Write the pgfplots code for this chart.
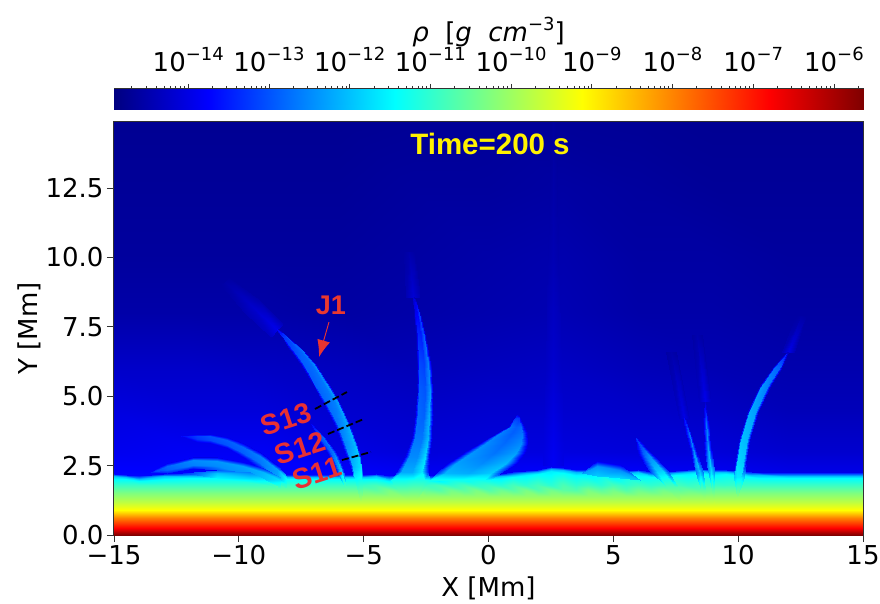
\documentclass[border=0pt]{standalone}
\usepackage{fontspec}
\setmainfont{DejaVu Sans}
\newfontfamily\lib{Liberation Sans}
\usepackage{pgfplots}
\pgfplotsset{compat=1.18}
\usetikzlibrary{arrows.meta}
\pgfplotsset{
  fld/.style={surf,shader=interp,point meta=explicit,forget plot},
  table/tb/.style={x index=0,y index=1,meta index=2,header=false,row sep=\\},
}
\newcommand\tenp[1]{10\raisebox{0.42em}{\fontsize{18}{18}\selectfont −#1}}
\definecolor{redtxt}{RGB}{232,48,52}
\definecolor{axc}{RGB}{50,50,50}
\begin{document}
\begin{tikzpicture}
\path[use as bounding box] (0,0) rectangle (880pt,603pt);
% ---------- colour bar
\begin{axis}[
  at={(114pt,493pt)},scale only axis,width=749pt,height=21pt,
  xmin=-14.92,xmax=-5.64,ymin=0,ymax=1,
  colormap/jet,point meta min=-14.92,point meta max=-5.64,
  axis line style={axc,line width=1pt},
  ytick=\empty,xtick pos=upper,xticklabel pos=upper,tick align=outside,
  xtick={-14,-13,-12,-11,-10,-9,-8,-7,-6},
  xticklabels={\tenp{14},\tenp{13},\tenp{12},\tenp{11},\tenp{10},\tenp{9},\tenp{8},\tenp{7},\tenp{6}},
  minor xtick={-14.699,-14.523,-14.398,-14.301,-14.222,-14.155,-14.097,-14.046,
   -13.699,-13.523,-13.398,-13.301,-13.222,-13.155,-13.097,-13.046,
   -12.699,-12.523,-12.398,-12.301,-12.222,-12.155,-12.097,-12.046,
   -11.699,-11.523,-11.398,-11.301,-11.222,-11.155,-11.097,-11.046,
   -10.699,-10.523,-10.398,-10.301,-10.222,-10.155,-10.097,-10.046,
   -9.699,-9.523,-9.398,-9.301,-9.222,-9.155,-9.097,-9.046,
   -8.699,-8.523,-8.398,-8.301,-8.222,-8.155,-8.097,-8.046,
   -7.699,-7.523,-7.398,-7.301,-7.222,-7.155,-7.097,-7.046,
   -6.699,-6.523,-6.398,-6.301,-6.222,-6.155,-6.097,-6.046,-5.699},
  major tick length=5pt,minor tick length=3pt,
  tick style={axc,line width=0.9pt},minor tick style={axc,line width=0.7pt},
  xticklabel style={font=\fontsize{26}{26}\selectfont,yshift=10pt,inner sep=2pt},
  xlabel={{\itshape ρ}\ \ [{\itshape g}\ \ {\itshape cm}\raisebox{0.42em}{\fontsize{18}{18}\selectfont −3}]},
  xlabel style={font=\fontsize{26}{26}\selectfont,yshift=-5pt},
]
\addplot[fld,mesh/cols=6] table[tb] {
-14.92 0 -14.92\\ -13.76 0 -13.76\\ -11.44 0 -11.44\\ -9.12 0 -9.12\\ -6.80 0 -6.80\\ -5.64 0 -5.64\\
-14.92 1 -14.92\\ -13.76 1 -13.76\\ -11.44 1 -11.44\\ -9.12 1 -9.12\\ -6.80 1 -6.80\\ -5.64 1 -5.64\\
};
\end{axis}
% ---------- main field
\begin{axis}[
  at={(114pt,68pt)},scale only axis,width=749pt,height=413pt,
  xmin=-15,xmax=15,ymin=0,ymax=14.88,
  colormap/jet,point meta min=-14.92,point meta max=-5.64,
  axis line style={axc,line width=1.1pt},
  tick align=outside,xtick pos=lower,ytick pos=left,
  major tick length=7pt,tick style={axc,line width=1pt},
  xtick={-15,-10,-5,0,5,10,15},xticklabels={−15,−10,−5,0,5,10,15},
  ytick={0,2.5,5,7.5,10,12.5},yticklabels={0.0,2.5,5.0,7.5,10.0,12.5},
  tick label style={font=\fontsize{26}{26}\selectfont},
  xlabel={X [Mm]},ylabel={Y [Mm]},
  label style={font=\fontsize{26}{26}\selectfont},
  xlabel style={yshift=-4.5pt},ylabel style={yshift=-2pt},
]
% atmosphere background
\addplot[fld,mesh/cols=11] table[tb] {
-15 2.0 -13.7\\ -12 2.0 -13.7\\ -9 2.0 -13.7\\ -6 2.0 -13.7\\ -3 2.0 -13.8\\ 0 2.0 -13.8\\ 3 2.0 -13.7\\ 6 2.0 -13.7\\ 9 2.0 -13.8\\ 12 2.0 -13.9\\ 15 2.0 -13.9\\
-15 3 -13.9\\ -12 3 -13.85\\ -9 3 -13.85\\ -6 3 -14.0\\ -3 3 -14.1\\ 0 3 -14.05\\ 3 3 -14.05\\ 6 3 -14.1\\ 9 3 -14.1\\ 12 3 -14.2\\ 15 3 -14.2\\
-15 4.5 -14.05\\ -12 4.5 -14.1\\ -9 4.5 -14.1\\ -6 4.5 -14.2\\ -3 4.5 -14.25\\ 0 4.5 -14.2\\ 3 4.5 -14.2\\ 6 4.5 -14.25\\ 9 4.5 -14.3\\ 12 4.5 -14.4\\ 15 4.5 -14.4\\
-15 6 -14.25\\ -12 6 -14.25\\ -9 6 -14.3\\ -6 6 -14.35\\ -3 6 -14.4\\ 0 6 -14.35\\ 3 6 -14.3\\ 6 6 -14.4\\ 9 6 -14.45\\ 12 6 -14.5\\ 15 6 -14.5\\
-15 8 -14.55\\ -12 8 -14.55\\ -9 8 -14.55\\ -6 8 -14.6\\ -3 8 -14.55\\ 0 8 -14.5\\ 3 8 -14.45\\ 6 8 -14.55\\ 9 8 -14.55\\ 12 8 -14.6\\ 15 8 -14.6\\
-15 10 -14.65\\ -12 10 -14.65\\ -9 10 -14.65\\ -6 10 -14.65\\ -3 10 -14.6\\ 0 10 -14.55\\ 3 10 -14.5\\ 6 10 -14.6\\ 9 10 -14.6\\ 12 10 -14.65\\ 15 10 -14.65\\
-15 12.5 -14.7\\ -12 12.5 -14.7\\ -9 12.5 -14.7\\ -6 12.5 -14.7\\ -3 12.5 -14.65\\ 0 12.5 -14.65\\ 3 12.5 -14.6\\ 6 12.5 -14.65\\ 9 12.5 -14.7\\ 12 12.5 -14.7\\ 15 12.5 -14.7\\
-15 14.88 -14.75\\ -12 14.88 -14.75\\ -9 14.88 -14.75\\ -6 14.88 -14.75\\ -3 14.88 -14.72\\ 0 14.88 -14.7\\ 3 14.88 -14.7\\ 6 14.88 -14.72\\ 9 14.88 -14.75\\ 12 14.88 -14.75\\ 15 14.88 -14.75\\
};
% faint streaks
\addplot[fld,mesh/cols=3] table[tb] {
2.2 2.5 -14.0\\ 2.6 2.5 -13.85\\ 3.0 2.5 -14.0\\
2.3 6 -14.3\\ 2.6 6 -14.2\\ 2.9 6 -14.3\\
2.4 10 -14.52\\ 2.6 10 -14.45\\ 2.8 10 -14.52\\
2.5 14.88 -14.7\\ 2.6 14.88 -14.65\\ 2.7 14.88 -14.7\\
};
\addplot[fld,mesh/cols=3] table[tb] {
-10.7 9.0 -14.6\\ -10.55 9.12 -14.55\\ -10.4 9.25 -14.6\\
-9.75 8.0 -14.45\\ -9.48 8.25 -14.25\\ -9.22 8.5 -14.5\\
-8.7 7.15 -14.3\\ -8.47 7.38 -13.95\\ -8.25 7.6 -14.4\\
};
\addplot[fld,mesh/cols=3] table[tb] {
-3.4 10.2 -14.6\\ -3.2 10.2 -14.52\\ -3.0 10.2 -14.6\\
-3.3 8.57 -14.45\\ -3.02 8.57 -14.15\\ -2.75 8.57 -14.45\\
};
\addplot[fld,mesh/cols=3] table[tb] {
12.3 7.9 -14.6\\ 12.5 7.9 -14.55\\ 12.7 7.9 -14.6\\
11.75 6.59 -14.4\\ 11.99 6.59 -14.0\\ 12.25 6.59 -14.4\\
};
\addplot[fld,mesh/cols=3] table[tb] {
8.15 7.2 -14.6\\ 8.35 7.2 -14.5\\ 8.55 7.2 -14.6\\
8.45 4.80 -14.35\\ 8.67 4.80 -13.95\\ 8.90 4.80 -14.35\\
};
\addplot[fld,mesh/cols=3] table[tb] {
7.1 6.6 -14.6\\ 7.3 6.6 -14.52\\ 7.5 6.6 -14.6\\
7.65 4.21 -14.3\\ 7.85 4.21 -14.0\\ 8.05 4.21 -14.3\\
};
% surface layer: stratified part
\addplot[fld,mesh/cols=2] table[tb] {
-15 0 -5.64\\ 15 0 -5.64\\
-15 0.25 -6.8\\ 15 0.25 -6.8\\
-15 0.6 -7.96\\ 15 0.6 -7.96\\
-15 0.9 -9.12\\ 15 0.9 -9.12\\
-15 1.2 -9.72\\ 15 1.2 -9.72\\
-15 1.5 -10.28\\ 15 1.5 -10.28\\
-15 1.8 -10.9\\ 15 1.8 -10.9\\
};
% surface layer: mottling under the rough top
\addplot[fld,mesh/cols=30] table[tb] {
-5 1.4 -10.09\\ -4.5 1.4 -10.09\\ -4 1.4 -10.09\\ -3.5 1.4 -10.09\\ -3 1.4 -10.09\\ -2.5 1.4 -10.09\\ -2 1.4 -10.09\\ -1.5 1.4 -10.09\\ -1 1.4 -10.09\\ -0.5 1.4 -10.09\\ 0 1.4 -10.09\\ 0.5 1.4 -10.09\\ 1 1.4 -10.09\\ 1.5 1.4 -10.09\\ 2 1.4 -10.09\\ 2.5 1.4 -10.09\\ 3 1.4 -10.09\\ 3.5 1.4 -10.09\\ 4 1.4 -10.09\\ 4.5 1.4 -10.09\\ 5 1.4 -10.09\\ 5.5 1.4 -10.09\\ 6 1.4 -10.09\\ 6.5 1.4 -10.09\\ 7 1.4 -10.09\\ 7.5 1.4 -10.09\\ 8 1.4 -10.09\\ 8.5 1.4 -10.09\\ 9 1.4 -10.09\\ 9.5 1.4 -10.09\\
-5 1.62 -10.5\\ -4.5 1.62 -10.6\\ -4 1.62 -10.35\\ -3.5 1.62 -10.65\\ -3 1.62 -10.3\\ -2.5 1.62 -10.55\\ -2 1.62 -10.7\\ -1.5 1.62 -10.4\\ -1 1.62 -10.6\\ -0.5 1.62 -10.35\\ 0 1.62 -10.7\\ 0.5 1.62 -10.45\\ 1 1.62 -10.65\\ 1.5 1.62 -10.35\\ 2 1.62 -10.7\\ 2.5 1.62 -10.4\\ 3 1.62 -10.6\\ 3.5 1.62 -10.7\\ 4 1.62 -10.35\\ 4.5 1.62 -10.6\\ 5 1.62 -10.4\\ 5.5 1.62 -10.7\\ 6 1.62 -10.45\\ 6.5 1.62 -10.6\\ 7 1.62 -10.4\\ 7.5 1.62 -10.6\\ 8 1.62 -10.5\\ 8.5 1.62 -10.6\\ 9 1.62 -10.5\\ 9.5 1.62 -10.5\\
-5 1.8 -10.9\\ -4.5 1.8 -10.8\\ -4 1.8 -11.0\\ -3.5 1.8 -10.8\\ -3 1.8 -10.7\\ -2.5 1.8 -10.9\\ -2 1.8 -10.8\\ -1.5 1.8 -11.0\\ -1 1.8 -10.8\\ -0.5 1.8 -11.0\\ 0 1.8 -10.9\\ 0.5 1.8 -11.05\\ 1 1.8 -10.8\\ 1.5 1.8 -11.0\\ 2 1.8 -10.8\\ 2.5 1.8 -11.05\\ 3 1.8 -10.75\\ 3.5 1.8 -11.0\\ 4 1.8 -10.85\\ 4.5 1.8 -11.05\\ 5 1.8 -10.8\\ 5.5 1.8 -11.0\\ 6 1.8 -10.85\\ 6.5 1.8 -11.0\\ 7 1.8 -10.9\\ 7.5 1.8 -10.8\\ 8 1.8 -10.95\\ 8.5 1.8 -10.85\\ 9 1.8 -10.9\\ 9.5 1.8 -10.95\\
};
% surface layer: rough top
\addplot[fld,mesh/cols=46] table[tb] {
-15 1.8 -10.9\\ -14.5 1.8 -10.9\\ -14 1.8 -10.9\\ -13 1.8 -10.9\\ -12 1.8 -10.9\\ -11 1.8 -10.9\\ -10 1.8 -10.9\\ -9 1.8 -10.9\\ -8 1.8 -10.9\\ -7 1.8 -10.9\\ -6 1.8 -10.9\\ -5 1.8 -10.9\\ -4.5 1.8 -10.8\\ -4 1.8 -11.0\\ -3.5 1.8 -10.8\\ -3 1.8 -10.7\\ -2.5 1.8 -10.9\\ -2 1.8 -10.8\\ -1.5 1.8 -11.0\\ -1 1.8 -10.8\\ -0.5 1.8 -11.0\\ 0 1.8 -10.9\\ 0.5 1.8 -11.05\\ 1 1.8 -10.8\\ 1.5 1.8 -11.0\\ 2 1.8 -10.8\\ 2.5 1.8 -11.05\\ 3 1.8 -10.75\\ 3.5 1.8 -11.0\\ 4 1.8 -10.85\\ 4.5 1.8 -11.05\\ 5 1.8 -10.8\\ 5.5 1.8 -11.0\\ 6 1.8 -10.85\\ 6.5 1.8 -11.0\\ 7 1.8 -10.9\\ 7.5 1.8 -10.8\\ 8 1.8 -10.95\\ 8.5 1.8 -10.85\\ 9 1.8 -10.9\\ 9.5 1.8 -10.95\\ 10 1.8 -10.9\\ 10.5 1.8 -10.9\\ 11 1.8 -10.9\\ 12 1.8 -10.9\\ 15 1.8 -10.9\\
-15 2.03 -11.45\\ -14.5 2.02 -11.45\\ -14 1.95 -11.4\\ -13 2.03 -11.45\\ -12 2.06 -11.45\\ -11 2.05 -11.45\\ -10 2.05 -11.45\\ -9 2.03 -11.45\\ -8 2.02 -11.45\\ -7 2.0 -11.45\\ -6 2.02 -11.45\\ -5 2.02 -11.45\\ -4.5 2.03 -11.45\\ -4 1.95 -11.5\\ -3.5 2.02 -11.4\\ -3 2.0 -11.3\\ -2.5 1.98 -11.4\\ -2 1.95 -11.5\\ -1.5 2.0 -11.4\\ -1 2.0 -11.5\\ -0.5 2.02 -11.35\\ 0 2.02 -11.45\\ 0.5 2.04 -11.55\\ 1 2.1 -11.4\\ 1.5 2.15 -11.55\\ 2 2.2 -11.45\\ 2.5 2.3 -11.6\\ 3 2.25 -11.4\\ 3.5 2.18 -11.5\\ 4 2.2 -11.6\\ 4.5 2.15 -11.4\\ 5 2.1 -11.55\\ 5.5 2.15 -11.4\\ 6 2.18 -11.55\\ 6.5 2.1 -11.4\\ 7 2.1 -11.5\\ 7.5 2.15 -11.4\\ 8 2.2 -11.55\\ 8.5 2.22 -11.45\\ 9 2.18 -11.5\\ 9.5 2.2 -11.45\\ 10 2.15 -11.5\\ 10.5 2.1 -11.45\\ 11 2.07 -11.45\\ 12 2.06 -11.45\\ 15 2.06 -11.45\\
-15 2.11 -12.0\\ -14.5 2.10 -12.0\\ -14 2.03 -12.0\\ -13 2.11 -12.0\\ -12 2.14 -12.0\\ -11 2.13 -12.0\\ -10 2.13 -12.0\\ -9 2.11 -12.0\\ -8 2.10 -12.0\\ -7 2.08 -12.0\\ -6 2.10 -12.0\\ -5 2.10 -12.0\\ -4.5 2.11 -12.0\\ -4 2.03 -12.0\\ -3.5 2.10 -12.0\\ -3 2.08 -12.0\\ -2.5 2.06 -12.0\\ -2 2.03 -12.0\\ -1.5 2.08 -12.0\\ -1 2.08 -12.0\\ -0.5 2.10 -12.0\\ 0 2.10 -12.0\\ 0.5 2.12 -12.0\\ 1 2.18 -12.0\\ 1.5 2.23 -12.1\\ 2 2.28 -12.1\\ 2.5 2.38 -12.1\\ 3 2.33 -12.0\\ 3.5 2.26 -12.1\\ 4 2.28 -12.1\\ 4.5 2.23 -12.0\\ 5 2.18 -12.0\\ 5.5 2.23 -12.0\\ 6 2.26 -12.0\\ 6.5 2.18 -12.0\\ 7 2.18 -12.0\\ 7.5 2.23 -12.0\\ 8 2.28 -12.0\\ 8.5 2.30 -12.0\\ 9 2.26 -12.0\\ 9.5 2.28 -12.0\\ 10 2.23 -12.0\\ 10.5 2.18 -12.0\\ 11 2.15 -12.0\\ 12 2.14 -12.0\\ 15 2.14 -12.0\\
-15 2.19 -13.4\\ -14.5 2.18 -13.4\\ -14 2.11 -13.4\\ -13 2.19 -13.4\\ -12 2.22 -13.4\\ -11 2.21 -13.4\\ -10 2.21 -13.4\\ -9 2.19 -13.4\\ -8 2.18 -13.4\\ -7 2.16 -13.4\\ -6 2.18 -13.4\\ -5 2.18 -13.4\\ -4.5 2.19 -13.4\\ -4 2.11 -13.4\\ -3.5 2.18 -13.4\\ -3 2.16 -13.4\\ -2.5 2.14 -13.4\\ -2 2.11 -13.4\\ -1.5 2.16 -13.4\\ -1 2.16 -13.4\\ -0.5 2.18 -13.4\\ 0 2.18 -13.4\\ 0.5 2.20 -13.4\\ 1 2.26 -13.4\\ 1.5 2.31 -13.4\\ 2 2.36 -13.4\\ 2.5 2.46 -13.4\\ 3 2.41 -13.4\\ 3.5 2.34 -13.4\\ 4 2.36 -13.4\\ 4.5 2.31 -13.4\\ 5 2.26 -13.4\\ 5.5 2.31 -13.4\\ 6 2.34 -13.4\\ 6.5 2.26 -13.4\\ 7 2.26 -13.4\\ 7.5 2.31 -13.4\\ 8 2.36 -13.4\\ 8.5 2.38 -13.4\\ 9 2.34 -13.4\\ 9.5 2.36 -13.4\\ 10 2.31 -13.4\\ 10.5 2.26 -13.4\\ 11 2.22 -13.4\\ 12 2.22 -13.4\\ 15 2.22 -13.4\\
};
% left arc A (vertical sections: top edge, bright rim, interior, lower edge)
\addplot[fld,mesh/cols=4] table[tb] {
-12.31 3.57 -13.8\\ -12.30 3.57 -13.7\\ -12.28 3.57 -13.7\\ -12.26 3.57 -13.8\\
-11.69 3.64 -14.0\\ -11.69 3.57 -13.2\\ -11.69 3.45 -13.3\\ -11.69 3.35 -13.9\\
-11.16 3.64 -14.0\\ -11.16 3.56 -13.0\\ -11.16 3.41 -13.1\\ -11.16 3.31 -13.9\\
-10.49 3.53 -14.0\\ -10.49 3.43 -12.9\\ -10.49 3.25 -13.0\\ -10.49 3.13 -13.9\\
-9.82 3.31 -14.0\\ -9.82 3.18 -12.8\\ -9.82 2.95 -12.9\\ -9.82 2.81 -13.8\\
-9.15 2.99 -14.0\\ -9.15 2.85 -12.6\\ -9.15 2.58 -12.7\\ -9.15 2.41 -13.6\\
-8.48 2.52 -13.9\\ -8.48 2.37 -12.3\\ -8.48 2.10 -12.3\\ -8.48 1.91 -11.2\\
-8.08 2.09 -11.9\\ -8.08 2.0 -11.4\\ -8.08 1.83 -11.1\\ -8.08 1.69 -10.8\\
};
% left arc B
\addplot[fld,mesh/cols=4] table[tb] {
-13.50 2.28 -13.5\\ -13.49 2.28 -13.2\\ -13.48 2.28 -13.2\\ -13.47 2.28 -13.5\\
-12.89 2.59 -13.9\\ -12.89 2.50 -12.8\\ -12.89 2.35 -12.9\\ -12.89 2.23 -13.5\\
-11.83 2.81 -14.0\\ -11.83 2.70 -12.5\\ -11.83 2.52 -12.6\\ -11.83 2.41 -13.5\\
-10.89 2.81 -14.0\\ -10.89 2.68 -12.4\\ -10.89 2.47 -12.5\\ -10.89 2.34 -13.0\\
-9.82 2.63 -13.8\\ -9.82 2.49 -12.3\\ -9.82 2.25 -12.4\\ -9.82 2.09 -12.0\\
-9.03 2.41 -13.5\\ -9.03 2.27 -12.1\\ -9.03 2.02 -12.0\\ -9.03 1.87 -11.2\\
-8.35 2.09 -12.3\\ -8.35 1.98 -11.7\\ -8.35 1.80 -11.1\\ -8.35 1.69 -10.7\\
};
% arc C, close to the surface
\addplot[fld,mesh/cols=3] table[tb] {
-12.24 2.23 -13.4\\ -12.23 2.23 -13.0\\ -12.22 2.23 -13.4\\
-10.89 2.34 -12.9\\ -10.89 2.22 -12.0\\ -10.89 2.05 -11.5\\
-9.55 2.27 -12.6\\ -9.55 2.07 -11.8\\ -9.55 1.87 -11.0\\
-8.49 1.75 -10.7\\ -8.48 1.73 -10.7\\ -8.47 1.71 -10.7\\
};
% S12 arc
\addplot[fld,mesh/cols=4] table[tb] {
-7.12 4.02 -14.1\\ -7.11 4.02 -13.8\\ -7.10 4.02 -13.7\\ -7.09 4.02 -14.1\\
-6.91 3.54 -14.1\\ -6.77 3.54 -13.1\\ -6.64 3.54 -12.8\\ -6.55 3.54 -14.1\\
-6.47 2.95 -14.0\\ -6.31 2.95 -12.9\\ -6.17 2.95 -12.6\\ -6.07 2.95 -14.0\\
-6.11 2.34 -13.6\\ -6.00 2.34 -12.3\\ -5.90 2.34 -11.9\\ -5.83 2.34 -13.4\\
-5.74 1.73 -10.7\\ -5.73 1.73 -10.7\\ -5.71 1.73 -10.7\\ -5.70 1.73 -10.7\\
};
% J1
\addplot[fld,mesh/cols=5] table[tb] {
-8.52 7.42 -14.3\\ -8.50 7.42 -14.0\\ -8.48 7.42 -13.9\\ -8.47 7.42 -13.8\\ -8.45 7.42 -14.3\\
-8.28 7.14 -14.3\\ -8.23 7.14 -13.3\\ -8.105 7.14 -13.2\\ -8.06 7.14 -13.0\\ -8.03 7.14 -14.3\\
-7.95 6.66 -14.3\\ -7.85 6.66 -13.1\\ -7.59 6.66 -12.9\\ -7.49 6.66 -12.7\\ -7.43 6.66 -14.3\\
-7.55 6.19 -14.2\\ -7.43 6.19 -12.9\\ -7.13 6.19 -12.8\\ -7.02 6.19 -12.5\\ -6.95 6.19 -14.3\\
-7.08 5.47 -14.2\\ -6.97 5.47 -12.9\\ -6.625 5.47 -12.7\\ -6.51 5.47 -12.4\\ -6.43 5.47 -14.2\\
-6.63 4.75 -14.1\\ -6.52 4.75 -12.8\\ -6.15 4.75 -12.6\\ -6.03 4.75 -12.3\\ -5.95 4.75 -14.2\\
-6.19 4.03 -14.0\\ -6.08 4.03 -12.7\\ -5.77 4.03 -12.4\\ -5.66 4.03 -12.2\\ -5.59 4.03 -14.1\\
-5.83 3.17 -13.9\\ -5.72 3.17 -12.5\\ -5.41 3.17 -12.2\\ -5.30 3.17 -12.0\\ -5.23 3.17 -14.0\\
-5.50 2.45 -13.5\\ -5.42 2.45 -12.1\\ -5.20 2.45 -11.8\\ -5.12 2.45 -11.7\\ -5.07 2.45 -13.7\\
-5.35 1.98 -11.4\\ -5.25 1.98 -11.4\\ -5.13 1.98 -11.3\\ -5.07 1.98 -11.3\\ -5.03 1.98 -11.4\\
-5.14 1.26 -9.9\\ -5.13 1.26 -9.9\\ -5.12 1.26 -9.9\\ -5.11 1.26 -9.9\\ -5.10 1.26 -9.9\\
};
% central crescent
\addplot[fld,mesh/cols=5] table[tb] {
-3.03 8.58 -14.4\\ -3.02 8.58 -14.2\\ -3.01 8.58 -14.2\\ -3.00 8.58 -14.0\\ -2.99 8.58 -14.4\\
-2.98 8.00 -14.4\\ -2.94 8.00 -13.9\\ -2.86 8.00 -13.8\\ -2.78 8.00 -13.3\\ -2.74 8.00 -14.4\\
-2.90 7.14 -14.4\\ -2.84 7.14 -13.4\\ -2.70 7.14 -13.5\\ -2.57 7.14 -12.9\\ -2.50 7.14 -14.4\\
-2.88 6.19 -14.3\\ -2.80 6.19 -13.1\\ -2.60 6.19 -13.2\\ -2.42 6.19 -12.6\\ -2.32 6.19 -14.3\\
-2.88 5.22 -14.3\\ -2.78 5.22 -12.9\\ -2.55 5.22 -13.0\\ -2.34 5.22 -12.4\\ -2.22 5.22 -14.3\\
-2.95 4.39 -14.2\\ -2.84 4.39 -12.8\\ -2.60 4.39 -12.9\\ -2.37 4.39 -12.2\\ -2.24 4.39 -14.2\\
-3.08 3.54 -14.1\\ -2.96 3.54 -12.7\\ -2.68 3.54 -12.7\\ -2.42 3.54 -12.1\\ -2.28 3.54 -14.1\\
-3.34 2.82 -13.9\\ -3.20 2.82 -12.5\\ -2.86 2.82 -12.5\\ -2.55 2.82 -11.8\\ -2.38 2.82 -13.9\\
-3.68 2.28 -13.5\\ -3.49 2.28 -12.2\\ -3.05 2.28 -12.2\\ -2.65 2.28 -11.6\\ -2.42 2.28 -13.5\\
-3.90 1.98 -11.3\\ -3.40 1.98 -11.3\\ -3.00 1.98 -11.2\\ -2.60 1.98 -11.2\\ -2.40 1.98 -11.3\\
-3.30 1.26 -9.85\\ -3.20 1.26 -9.85\\ -3.10 1.26 -9.85\\ -3.00 1.26 -9.85\\ -2.90 1.26 -9.85\\
};
% blob
\addplot[fld,mesh/cols=5] table[tb] {
1.12 4.32 -14.1\\ 1.13 4.32 -13.9\\ 1.15 4.32 -13.8\\ 1.16 4.32 -13.9\\ 1.18 4.32 -14.1\\
1.06 4.20 -14.0\\ 1.08 4.20 -13.3\\ 1.16 4.20 -13.2\\ 1.23 4.20 -13.3\\ 1.26 4.20 -14.0\\
0.78 3.90 -14.0\\ 0.86 3.90 -12.7\\ 1.10 3.90 -12.9\\ 1.32 3.90 -12.8\\ 1.42 3.90 -14.0\\
0.34 3.67 -14.0\\ 0.48 3.67 -12.6\\ 0.94 3.67 -12.9\\ 1.36 3.67 -12.7\\ 1.54 3.67 -14.0\\
-0.34 3.31 -14.0\\ -0.11 3.31 -12.5\\ 0.62 3.31 -12.8\\ 1.29 3.31 -12.5\\ 1.58 3.31 -14.0\\
-1.02 2.95 -14.0\\ -0.72 2.95 -12.4\\ 0.22 2.95 -12.7\\ 1.09 2.95 -12.3\\ 1.46 2.95 -14.0\\
-1.63 2.59 -13.9\\ -1.30 2.59 -12.3\\ -0.25 2.59 -12.5\\ 0.72 2.59 -12.1\\ 1.14 2.59 -13.9\\
-2.06 2.23 -13.2\\ -1.76 2.23 -12.1\\ -0.80 2.23 -12.2\\ 0.08 2.23 -11.9\\ 0.46 2.23 -13.2\\
-2.34 1.98 -11.3\\ -2.00 1.98 -11.3\\ -1.10 1.98 -11.3\\ -0.20 1.98 -11.3\\ 0.06 1.98 -11.3\\
};
% dome
\addplot[fld,mesh/cols=3] table[tb] {
3.74 2.23 -12.8\\ 3.74 2.23 -12.5\\ 3.74 2.23 -12.3\\
4.34 2.67 -13.9\\ 4.34 2.49 -12.4\\ 4.34 2.13 -11.9\\
5.27 2.52 -13.8\\ 5.27 2.34 -12.5\\ 5.27 2.05 -11.8\\
6.07 1.98 -12.0\\ 6.07 1.98 -12.0\\ 6.07 1.98 -12.0\\
};
% R4
\addplot[fld,mesh/cols=4] table[tb] {
5.89 3.49 -14.0\\ 5.90 3.49 -13.6\\ 5.92 3.49 -13.4\\ 5.93 3.49 -14.0\\
6.00 2.95 -14.0\\ 6.18 2.95 -12.9\\ 6.35 2.95 -12.6\\ 6.50 2.95 -13.9\\
6.43 2.34 -13.3\\ 6.70 2.34 -12.0\\ 6.95 2.34 -11.9\\ 7.16 2.34 -13.2\\
7.16 1.74 -10.7\\ 7.30 1.74 -10.7\\ 7.45 1.74 -10.7\\ 7.58 1.74 -10.7\\
7.62 1.26 -9.9\\ 7.64 1.26 -9.9\\ 7.66 1.26 -9.9\\ 7.68 1.26 -9.9\\
};
% R3
\addplot[fld,mesh/cols=3] table[tb] {
7.84 4.20 -14.2\\ 7.85 4.20 -13.7\\ 7.86 4.20 -14.2\\
7.89 3.67 -14.2\\ 8.02 3.67 -12.8\\ 8.13 3.67 -14.2\\
8.10 2.95 -14.0\\ 8.24 2.95 -12.4\\ 8.36 2.95 -14.0\\
8.33 2.23 -12.6\\ 8.46 2.23 -11.9\\ 8.58 2.23 -12.6\\
8.51 1.62 -10.6\\ 8.59 1.62 -10.6\\ 8.67 1.62 -10.6\\
8.69 1.15 -9.6\\ 8.70 1.15 -9.6\\ 8.71 1.15 -9.6\\
};
% R2
\addplot[fld,mesh/cols=3] table[tb] {
8.66 4.80 -14.2\\ 8.67 4.80 -13.7\\ 8.68 4.80 -14.2\\
8.60 4.03 -14.2\\ 8.72 4.03 -12.8\\ 8.83 4.03 -14.2\\
8.63 3.18 -14.1\\ 8.78 3.18 -12.3\\ 8.91 3.18 -14.1\\
8.78 2.34 -12.6\\ 8.92 2.34 -11.8\\ 9.03 2.34 -12.6\\
8.95 1.62 -10.6\\ 9.01 1.62 -10.6\\ 9.07 1.62 -10.6\\
9.04 1.15 -9.6\\ 9.05 1.15 -9.6\\ 9.06 1.15 -9.6\\
};
% R1
\addplot[fld,mesh/cols=4] table[tb] {
11.97 6.59 -14.3\\ 11.98 6.59 -13.6\\ 12.00 6.59 -13.6\\ 12.01 6.59 -14.3\\
11.39 6.06 -14.3\\ 11.47 6.06 -12.8\\ 11.66 6.06 -12.9\\ 11.77 6.06 -14.3\\
10.85 5.34 -14.2\\ 10.93 5.34 -12.4\\ 11.14 5.34 -12.6\\ 11.26 5.34 -14.3\\
10.37 4.39 -14.2\\ 10.45 4.39 -12.2\\ 10.66 4.39 -12.3\\ 10.78 4.39 -14.3\\
10.03 3.42 -14.1\\ 10.12 3.42 -12.0\\ 10.34 3.42 -12.1\\ 10.47 3.42 -14.2\\
9.87 2.59 -13.9\\ 9.96 2.59 -11.8\\ 10.19 2.59 -11.9\\ 10.33 2.59 -14.0\\
9.83 2.10 -11.9\\ 9.97 2.10 -11.6\\ 10.11 2.10 -11.6\\ 10.23 2.10 -11.9\\
9.94 1.37 -10.1\\ 9.95 1.37 -10.1\\ 9.96 1.37 -10.1\\ 9.97 1.37 -10.1\\
};
% annotations
\addplot[black,line width=1.8pt,dash pattern=on 7pt off 3pt,forget plot] coordinates {(-6.95,4.54) (-5.67,5.15)};
\addplot[black,line width=1.8pt,dash pattern=on 7pt off 3pt,forget plot] coordinates {(-6.43,3.64) (-4.99,4.18)};
\addplot[black,line width=1.8pt,dash pattern=on 7pt off 3pt,forget plot] coordinates {(-5.87,2.70) (-4.71,2.99)};
\draw[redtxt!95!orange,line width=0.9pt,-{Latex[length=17pt,width=13pt]}] (axis cs:-6.39,7.67) -- (axis cs:-6.79,6.41);
\node[font=\lib\bfseries\fontsize{29.5}{29.5}\selectfont,text=yellow] at (axis cs:0.06,14.08) {Time=200 s};
\node[font=\lib\bfseries\fontsize{27}{27}\selectfont,text=redtxt!90!orange] at (axis cs:-6.31,8.28) {J1};
\node[font=\lib\bfseries\fontsize{28.5}{28.5}\selectfont,text=redtxt,rotate=18] at (axis cs:-8.11,4.18) {S13};
\node[font=\lib\bfseries\fontsize{28.5}{28.5}\selectfont,text=redtxt,rotate=18] at (axis cs:-7.55,3.13) {S12};
\node[font=\lib\bfseries\fontsize{28.5}{28.5}\selectfont,text=redtxt,rotate=18] at (axis cs:-6.87,2.23) {S11};
\end{axis}
\end{tikzpicture}
\end{document}
